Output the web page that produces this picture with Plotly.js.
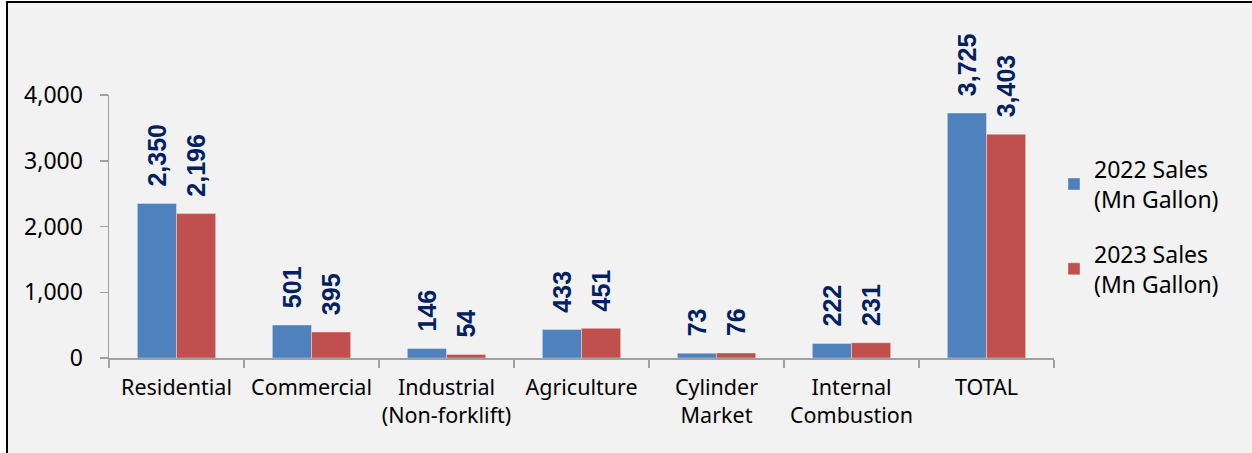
<!DOCTYPE html>
<html>
<head>
<meta charset="utf-8">
<script src="https://cdn.plot.ly/plotly-3.0.1.min.js"></script>
<style>
  html, body { margin: 0; padding: 0; background: #ffffff; }
  #frame { position: absolute; left: 6px; top: 1px; width: 1246px; height: 452px;
           border-left: 2px solid #000; border-top: 2px solid #000; background: #f2f2f2; overflow: hidden; }
  #chart { position: absolute; left: -8px; top: -3px; width: 1252px; height: 453px; }
</style>
</head>
<body>
<div id="frame"><div id="chart"></div></div>
<script>
const categories = ["Residential", "Commercial", "Industrial<br>(Non-forklift)", "Agriculture", "Cylinder<br>Market", "Internal<br>Combustion", "TOTAL"];
const sales2022 = [2350, 501, 146, 433, 73, 222, 3725];
const sales2023 = [2196, 395, 54, 451, 76, 231, 3403];
const seriesNames = ["2022 Sales<br>(Mn Gallon)", "2023 Sales<br>(Mn Gallon)"];
const yTicks = [0, 1000, 2000, 3000, 4000];

const fmt = v => "\u00a0\u00a0" + v.toLocaleString("en-US");
const labelFont = { family: "Liberation Sans, Arial, sans-serif", size: 25, color: "#002060", weight: "bold" };
const axisFont = { family: "Noto Sans, sans-serif", size: 23, color: "#000000" };
const xFont = { family: "Noto Sans, sans-serif", size: 21.5, color: "#000000" };
const legendFont = { family: "Noto Sans, sans-serif", size: 23, color: "#000000" };

function barTrace(vals, name, color, grp) {
  return {
    type: "bar", x: categories, y: vals, name: name, legendgroup: grp,
    marker: { color: color, line: { color: "rgba(255,255,255,0.35)", width: 1 } },
    text: vals.map(fmt), textposition: "outside", textangle: -90,
    constraintext: "none", cliponaxis: false,
    textfont: labelFont, hoverinfo: "skip"
  };
}

const data = [
  barTrace(sales2022, seriesNames[0], "#4f81bd", "a"),
  barTrace(sales2023, seriesNames[1], "#c0504d", "b")
];

const layout = {
  width: 1252, height: 453,
  paper_bgcolor: "rgba(0,0,0,0)", plot_bgcolor: "rgba(0,0,0,0)",
  margin: { l: 109, r: 198, t: 95, b: 95 },
  barmode: "group", bargap: 0.42, bargroupgap: 0,
  showlegend: true,
  legend: { x: 1.0, y: 0.80, xanchor: "left", yanchor: "top", font: legendFont,
            traceorder: "grouped", tracegroupgap: 22, itemwidth: 30, bgcolor: "rgba(0,0,0,0)" },
  xaxis: { type: "category", showline: true, linecolor: "#a0a0a0", linewidth: 1.5,
           ticks: "outside", tickson: "boundaries", ticklen: 8, tickcolor: "#a0a0a0", tickwidth: 1.5,
           ticklabelstandoff: 10, tickangle: 0,
           tickfont: xFont, showgrid: false, zeroline: false, fixedrange: true },
  yaxis: { range: [0, 4000], tickvals: yTicks, ticktext: yTicks.map(v => v.toLocaleString("en-US")),
           showline: true, linecolor: "#a0a0a0", linewidth: 1.5,
           ticks: "outside", ticklen: 8, tickcolor: "#a0a0a0", tickwidth: 1.5,
           ticklabelstandoff: 12, tickfont: axisFont, showgrid: false, zeroline: false, fixedrange: true }
};

Plotly.newPlot("chart", data, layout, { displayModeBar: false, staticPlot: true });
</script>
</body>
</html>
